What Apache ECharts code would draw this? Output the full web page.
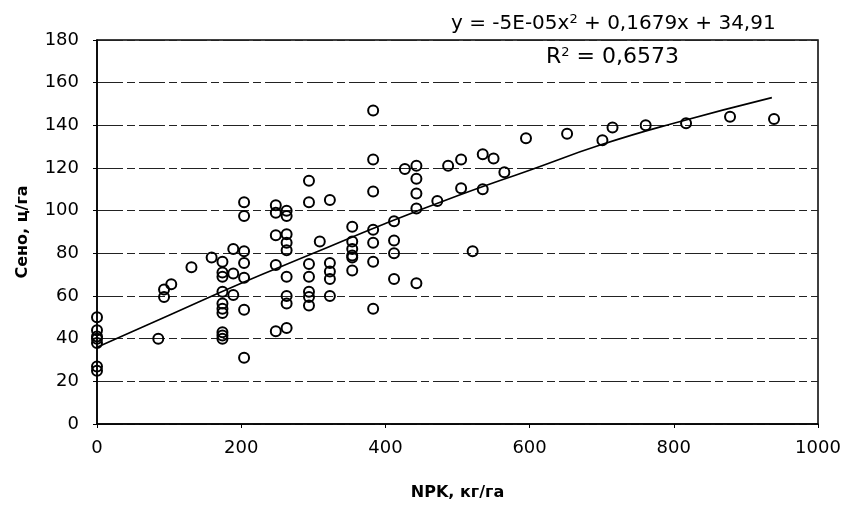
<!DOCTYPE html>
<html>
<head>
<meta charset="utf-8">
<script src="https://cdn.jsdelivr.net/npm/echarts@6/dist/echarts.min.js"></script>
<style>
  html, body { margin: 0; padding: 0; background: #fff; }
  #chart { width: 844px; height: 509px; }
</style>
</head>
<body>
<div id="chart"></div>
<script>
// NPK dose (kg/ha) and hay yield (c/ha)
const npk = [
  0, 0, 0, 0, 0, 0, 0,
  85, 93, 93, 103, 131, 159,
  174, 174, 174, 174, 174, 174, 174, 174, 174, 174,
  189, 189, 189,
  204, 204, 204, 204, 204, 204, 204,
  248, 248, 248, 248, 248,
  263, 263, 263, 263, 263, 263, 263, 263, 263,
  294, 294, 294, 294, 294, 294, 294,
  309,
  323, 323, 323, 323, 323,
  354, 354, 354, 354, 354, 354,
  383, 383, 383, 383, 383, 383, 383,
  412, 412, 412, 412,
  427,
  443, 443, 443, 443, 443,
  472, 487, 505, 505, 521, 535, 535, 550, 565,
  595, 652, 701, 715, 761, 817, 878, 939
]
const hay = [
  50, 44, 41, 40, 38, 27, 25,
  40, 63, 59.5, 65.5, 73.5, 78,
  76, 71, 69, 62, 56.5, 54, 52, 43, 41.5, 40,
  82, 70.5, 60.5,
  104, 97.5, 81, 75.5, 68.5, 53.5, 31,
  102.5, 99, 88.5, 74.5, 43.5,
  100, 97.5, 89, 85, 81.5, 69, 60, 56.5, 45,
  114, 104, 75, 69, 62, 59.5, 55.5,
  85.5,
  105, 75.5, 71.5, 68, 60,
  92.5, 85.5, 82, 79, 78, 72,
  147, 124, 109, 91, 85, 76, 54,
  95, 86, 80, 68,
  119.5,
  121, 115, 108, 101, 66,
  104.5, 121, 124, 110.5, 81, 126.5, 110, 124.5, 118,
  134, 136, 133, 139, 140, 141, 144, 143
]

// polynomial trend line
const trendX = [0, 100, 200, 300, 400, 500, 600, 700, 800, 936]
const trendY = [36, 51, 66, 80, 94, 107, 119, 131, 141, 153]

const xTicks = { min: 0, max: 1000, step: 200 }
const yTicks = { min: 0, max: 180, step: 20 }

const font = '"DejaVu Sans", "Liberation Sans", sans-serif'
const supStyle = { fontSize: 13, fontFamily: font, fill: '#000', padding: [0, 0, 9, 0] }

const chart = echarts.init(document.getElementById('chart'))

chart.setOption({
  backgroundColor: '#fff',
  animation: false,
  grid: {
    left: 97, right: 26, top: 40, bottom: 85,
    show: true, borderColor: '#000', borderWidth: 1.5,
  },
  xAxis: {
    type: 'value',
    min: xTicks.min, max: xTicks.max, interval: xTicks.step,
    name: 'NPK, кг/га',
    nameLocation: 'middle',
    nameGap: 61,
    nameTextStyle: { fontFamily: font, fontWeight: 'bold', fontSize: 16, color: '#000' },
    axisLine: { lineStyle: { color: '#000', width: 1.5 } },
    axisTick: { show: true, length: 4, lineStyle: { color: '#000' } },
    axisLabel: { fontFamily: font, fontSize: 18, color: '#000', margin: 15, formatter: (v) => String(v) },
    splitLine: { show: false },
  },
  yAxis: {
    type: 'value',
    min: yTicks.min, max: yTicks.max, interval: yTicks.step,
    name: 'Сено, ц/га',
    nameLocation: 'middle',
    nameGap: 66,
    nameTextStyle: { fontFamily: font, fontWeight: 'bold', fontSize: 16, color: '#000' },
    axisLine: { show: true, lineStyle: { color: '#000', width: 1.5 } },
    axisTick: { show: true, length: 4, lineStyle: { color: '#000' } },
    axisLabel: { fontFamily: font, fontSize: 18, color: '#000', margin: 18 },
    splitLine: { show: true, lineStyle: { color: '#222', width: 1.1, type: [26, 4, 8, 4] } },
  },
  graphic: [
    {
      type: 'text', left: 451, top: 13,
      style: {
        text: 'y = -5E-05x{sup|2} + 0,1679x + 34,91',
        font: '20px ' + font,
        fill: '#000',
        rich: { sup: supStyle },
      },
    },
    {
      type: 'text', left: 546, top: 46,
      style: {
        text: 'R{sup|2} = 0,6573',
        font: '22px ' + font,
        fill: '#000',
        rich: { sup: supStyle },
      },
    },
  ],
  series: [
    {
      type: 'scatter',
      data: npk.map((x, i) => [x, hay[i]]),
      symbol: 'circle',
      symbolSize: 10,
      itemStyle: { color: 'rgba(0,0,0,0)', borderColor: '#000', borderWidth: 2, opacity: 1 },
      z: 3,
    },
    {
      type: 'line',
      data: trendX.map((x, i) => [x, trendY[i]]),
      smooth: true,
      showSymbol: false,
      lineStyle: { color: '#000', width: 1.6 },
      z: 4,
    },
  ],
})
</script>
</body>
</html>
